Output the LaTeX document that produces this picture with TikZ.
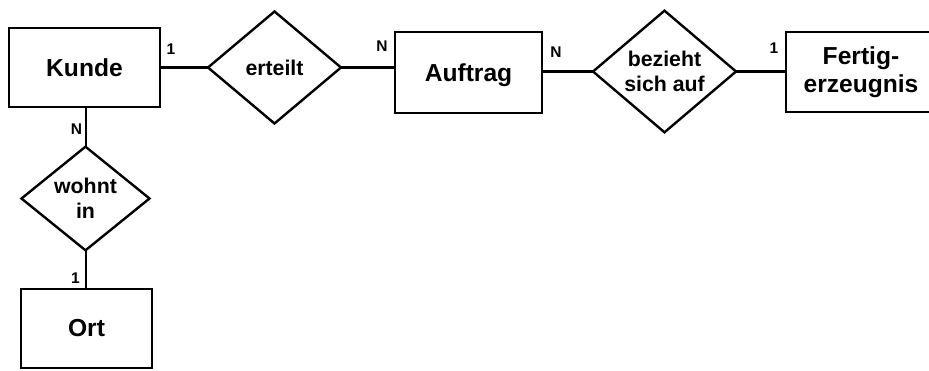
\documentclass[tikz,border=0pt]{standalone}
\usepackage{fontspec}
\setmainfont{Liberation Sans}
\usetikzlibrary{shapes.geometric}
\begin{document}
\begin{tikzpicture}[x=1pt,y=-1pt,
  every node/.style={inner sep=0pt,outer sep=0pt},
  entity/.style={draw,line width=2.7pt,rectangle,align=center,
    font=\fontsize{24.6}{28}\selectfont\bfseries},
  relation/.style={draw,line width=2.4pt,diamond,align=center,
    font=\fontsize{21.3}{25.5}\selectfont\bfseries},
  card/.style={font=\fontsize{15.5}{16}\selectfont\bfseries},
  conn/.style={line width=2.3pt},
  vconn/.style={line width=2pt}]
\useasboundingbox (0,0) rectangle (929,370);
% entities
\node[entity,minimum width=151pt,minimum height=79pt] (kunde) at (84.5,67.5) {Kunde};
\node[entity,minimum width=147pt,minimum height=81pt,text depth=0pt] (auftrag) at (468.5,72.5) {Auftrag};
\node[entity,minimum width=150pt,minimum height=80pt] (fertig) at (861,72) {Fertig-\\erzeugnis};
\node[entity,minimum width=131pt,minimum height=79pt] (ort) at (86.5,328.5) {Ort};
% relations
\node[relation,minimum width=133pt,minimum height=112pt] (erteilt) at (274.5,67.5) {erteilt};
\node[relation,minimum width=143pt,minimum height=121pt] (bezieht) at (664.5,71.5) {bezieht\\sich auf};
\node[relation,minimum width=128pt,minimum height=99pt] (wohnt) at (85.5,198.5) {wohnt\\in};
% connectors
\draw[conn] (kunde.east |- erteilt.west) -- (erteilt.west);
\draw[conn] (erteilt.east) -- (erteilt.east -| auftrag.west);
\draw[conn] (auftrag.east |- bezieht.west) -- (bezieht.west);
\draw[conn] (bezieht.east) -- (bezieht.east -| fertig.west);
\draw[vconn] (kunde.south -| wohnt.north) -- (wohnt.north);
\draw[vconn] (wohnt.south) -- (wohnt.south |- ort.north);
% cardinalities
\node[card] (c1) at (171,49) {1};
\node[card] (c2) at (382,46.5) {N};
\node[card] (c3) at (556,52) {N};
\node[card] (c4) at (774,48.5) {1};
\node[card] (c5) at (76.5,129.5) {N};
\node[card] (c6) at (75.5,278) {1};
\end{tikzpicture}
\end{document}
